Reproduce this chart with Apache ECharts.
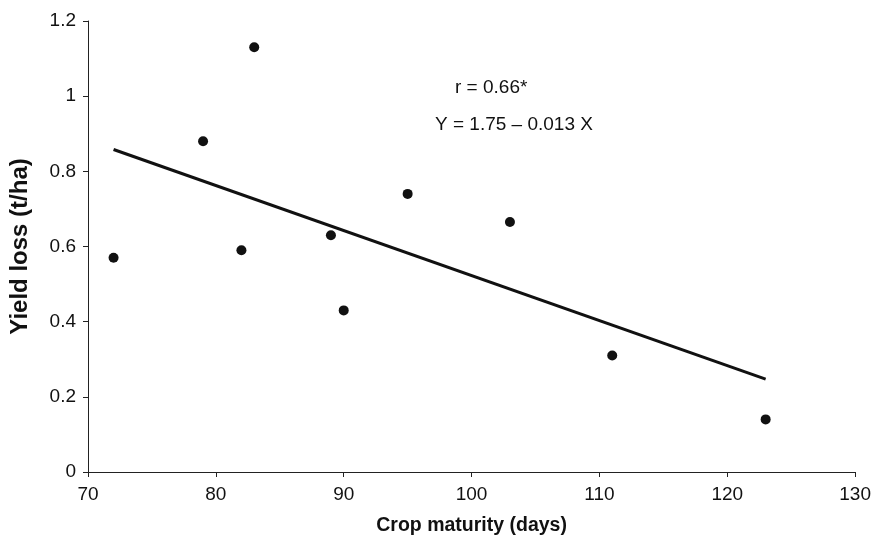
<!DOCTYPE html>
<html>
<head>
<meta charset="utf-8">
<script src="https://cdn.jsdelivr.net/npm/echarts@6/dist/echarts.min.js"></script>
<style>
html,body{margin:0;padding:0;background:#fff;}
#chart{width:874px;height:541px;}
</style>
</head>
<body>
<div id="chart"></div>
<script>
// Data
const maturityDays = [72, 79, 82, 83, 89, 90, 95, 103, 111, 123];
const yieldLoss    = [0.57, 0.88, 0.59, 1.13, 0.63, 0.43, 0.74, 0.665, 0.31, 0.14];
const fitLineX = [72, 123];
const fitLineY = [0.858, 0.247];
const xTitle = 'Crop maturity (days)';
const yTitle = 'Yield loss (t/ha)';
const annotR = 'r = 0.66*';
const annotEq = 'Y = 1.75 \u2013 0.013 X';

const FONT = '"Liberation Sans", Arial, Helvetica, sans-serif';
const INK = '#111';

const chart = echarts.init(document.getElementById('chart'), null, {renderer: 'canvas'});
chart.setOption({
  animation: false,
  backgroundColor: '#fff',
  grid: {left: 84, right: 17, top: 21, bottom: 64, containLabel: false},
  xAxis: {
    type: 'value', min: 70, max: 130, interval: 10,
    name: xTitle, nameLocation: 'middle', nameGap: 44,
    nameTextStyle: {fontFamily: FONT, fontSize: 19.5, fontWeight: 'bold', color: INK},
    axisLine: {show: true, onZero: false, lineStyle: {color: '#222', width: 1}},
    axisTick: {show: true, inside: false, length: 5, lineStyle: {color: '#222', width: 1}},
    axisLabel: {fontFamily: FONT, fontSize: 19, color: INK, margin: 13},
    splitLine: {show: false}
  },
  yAxis: {
    type: 'value', min: 0, max: 1.2, interval: 0.2,
    name: yTitle, nameLocation: 'middle', nameGap: 56, nameRotate: 90,
    nameTextStyle: {fontFamily: FONT, fontSize: 24, fontWeight: 'bold', color: INK},
    axisLine: {show: true, onZero: false, lineStyle: {color: '#222', width: 1}},
    axisTick: {show: true, inside: false, length: 5, lineStyle: {color: '#222', width: 1}},
    axisLabel: {fontFamily: FONT, fontSize: 19, color: INK, margin: 12,
      formatter: v => (Math.round(v * 10) / 10).toString()},
    splitLine: {show: false}
  },
  series: [
    {
      type: 'line',
      data: fitLineX.map((x, i) => [x, fitLineY[i]]),
      symbol: 'none',
      lineStyle: {color: INK, width: 3},
      z: 2
    },
    {
      type: 'scatter',
      data: maturityDays.map((x, i) => [x, yieldLoss[i]]),
      symbol: 'circle',
      symbolSize: 10,
      itemStyle: {color: INK, opacity: 1},
      z: 3
    }
  ],
  graphic: [
    {type: 'text', left: 455, top: 78,
      style: {text: annotR, fontFamily: FONT, fontSize: 19, fill: INK}},
    {type: 'text', left: 435, top: 115,
      style: {text: annotEq, fontFamily: FONT, fontSize: 19, fill: INK}}
  ]
});
</script>
</body>
</html>
